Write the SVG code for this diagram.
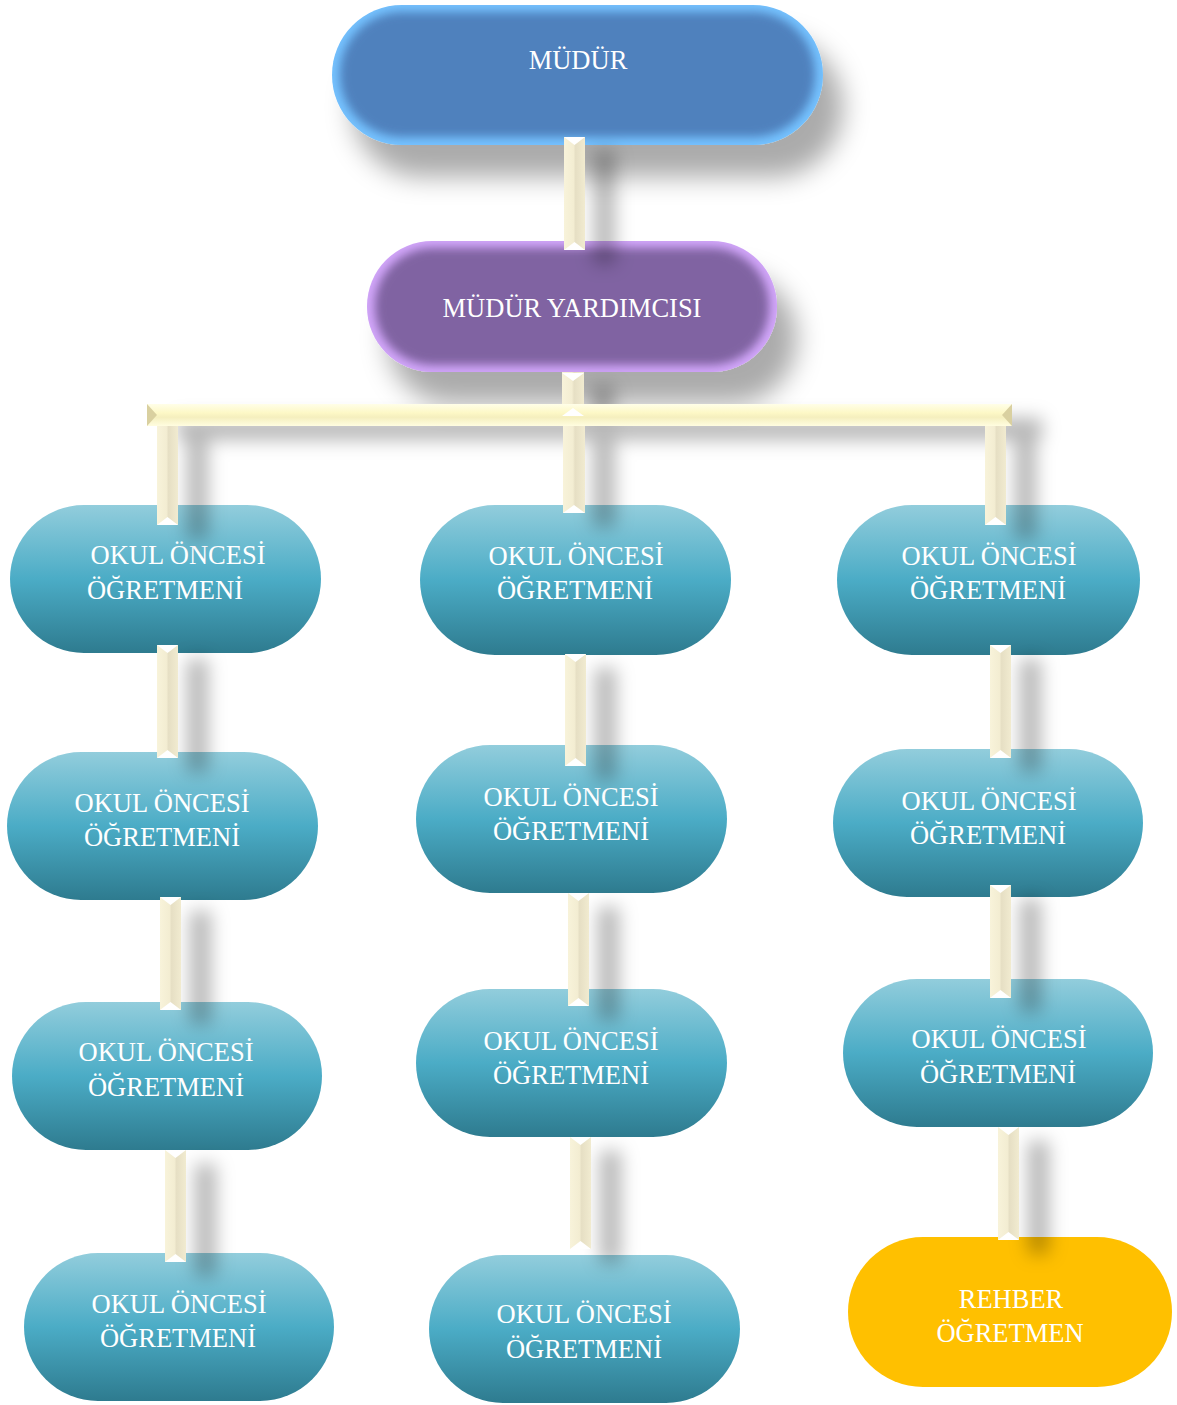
<svg xmlns="http://www.w3.org/2000/svg" width="1177" height="1405" viewBox="0 0 1177 1405">
<defs>
<style>
.t{font-family:"Liberation Serif","DejaVu Serif",serif;font-size:26.5px;fill:#ffffff;text-anchor:middle}
.teal{fill:url(#gTeal)}
.vbar{fill:url(#gVbar)}
.cap{fill:#ffffff}
</style>
<linearGradient id="gTeal" x1="0" y1="0" x2="0" y2="1">
<stop offset="0" stop-color="#92CDDC"/>
<stop offset="0.5" stop-color="#4BACC6"/>
<stop offset="1" stop-color="#2E7B8F"/>
</linearGradient>
<linearGradient id="gVbar" x1="0" y1="0" x2="1" y2="0">
<stop offset="0" stop-color="#F8F3DA"/>
<stop offset="0.45" stop-color="#F3EDD2"/>
<stop offset="0.55" stop-color="#E6DFC4"/>
<stop offset="1" stop-color="#F1EBD0"/>
</linearGradient>
<linearGradient id="gHbar" x1="0" y1="0" x2="0" y2="1">
<stop offset="0" stop-color="#FFFEE8"/>
<stop offset="0.4" stop-color="#FDF8C6"/>
<stop offset="0.6" stop-color="#F5EFBE"/>
<stop offset="1" stop-color="#FFFDE0"/>
</linearGradient>
<filter id="nodeShadow" x="-20%" y="-30%" width="150%" height="190%">
<feGaussianBlur in="SourceAlpha" stdDeviation="13"/>
<feOffset dx="20" dy="32" result="o"/>
<feFlood flood-color="#000" flood-opacity="0.33"/>
<feComposite in2="o" operator="in"/>
<feMerge><feMergeNode/><feMergeNode in="SourceGraphic"/></feMerge>
</filter>
<filter id="barShadow" x="-100%" y="-30%" width="400%" height="160%">
<feGaussianBlur in="SourceAlpha" stdDeviation="9"/>
<feOffset dx="30" dy="14" result="o"/>
<feFlood flood-color="#000" flood-opacity="0.28"/>
<feComposite in2="o" operator="in"/>
<feMerge><feMergeNode/><feMergeNode in="SourceGraphic"/></feMerge>
</filter>
<filter id="innerBlur" x="-10%" y="-20%" width="120%" height="140%">
<feGaussianBlur stdDeviation="5"/>
</filter>
<clipPath id="clipBlue"><rect x="332" y="5" width="491" height="140" rx="70"/></clipPath>
<clipPath id="clipPurple"><rect x="367" y="241" width="410" height="131" rx="65"/></clipPath>
</defs>

<g id="n-mudur">
<g filter="url(#nodeShadow)">
<rect x="332" y="5" width="491" height="140" rx="70" fill="#74C2FF"/>
</g>
<g clip-path="url(#clipBlue)">
<rect x="340" y="12" width="475" height="125" rx="62" fill="#4F81BD" filter="url(#innerBlur)"/>
</g>
<text class="t" x="578" y="69">MÜDÜR</text>
</g>

<g id="n-yardimci">
<g filter="url(#nodeShadow)">
<rect x="367" y="241" width="410" height="131" rx="65" fill="#D2A6FA"/>
</g>
<g clip-path="url(#clipPurple)">
<rect x="375" y="248" width="394" height="117" rx="58" fill="#8064A2" filter="url(#innerBlur)"/>
</g>
<text class="t" x="572" y="317">MÜDÜR YARDIMCISI</text>
</g>

<g id="c1n1"><rect class="teal" x="10" y="505" width="311" height="148" rx="74"/>
<text class="t" x="178" y="564">OKUL ÖNCESİ</text><text class="t" x="165" y="599">ÖĞRETMENİ</text></g>
<g id="c1n2"><rect class="teal" x="7" y="752" width="311" height="148" rx="74"/>
<text class="t" x="162" y="812">OKUL ÖNCESİ</text><text class="t" x="162" y="846">ÖĞRETMENİ</text></g>
<g id="c1n3"><rect class="teal" x="12" y="1002" width="310" height="148" rx="74"/>
<text class="t" x="166" y="1061">OKUL ÖNCESİ</text><text class="t" x="166" y="1096">ÖĞRETMENİ</text></g>
<g id="c1n4"><rect class="teal" x="24" y="1253" width="310" height="148" rx="74"/>
<text class="t" x="179" y="1313">OKUL ÖNCESİ</text><text class="t" x="178" y="1347">ÖĞRETMENİ</text></g>

<g id="c2n1"><rect class="teal" x="420" y="505" width="311" height="150" rx="75"/>
<text class="t" x="576" y="565">OKUL ÖNCESİ</text><text class="t" x="575" y="599">ÖĞRETMENİ</text></g>
<g id="c2n2"><rect class="teal" x="416" y="745" width="311" height="148" rx="74"/>
<text class="t" x="571" y="806">OKUL ÖNCESİ</text><text class="t" x="571" y="840">ÖĞRETMENİ</text></g>
<g id="c2n3"><rect class="teal" x="416" y="989" width="311" height="148" rx="74"/>
<text class="t" x="571" y="1050">OKUL ÖNCESİ</text><text class="t" x="571" y="1084">ÖĞRETMENİ</text></g>
<g id="c2n4"><rect class="teal" x="429" y="1255" width="311" height="148" rx="74"/>
<text class="t" x="584" y="1323">OKUL ÖNCESİ</text><text class="t" x="584" y="1358">ÖĞRETMENİ</text></g>

<g id="c3n1"><rect class="teal" x="837" y="505" width="303" height="150" rx="75"/>
<text class="t" x="989" y="565">OKUL ÖNCESİ</text><text class="t" x="988" y="599">ÖĞRETMENİ</text></g>
<g id="c3n2"><rect class="teal" x="833" y="749" width="310" height="148" rx="74"/>
<text class="t" x="989" y="810">OKUL ÖNCESİ</text><text class="t" x="988" y="844">ÖĞRETMENİ</text></g>
<g id="c3n3"><rect class="teal" x="843" y="979" width="310" height="148" rx="74"/>
<text class="t" x="999" y="1048">OKUL ÖNCESİ</text><text class="t" x="998" y="1083">ÖĞRETMENİ</text></g>

<g id="rehber"><rect x="848" y="1237" width="324" height="150" rx="75" fill="#FFC000"/>
<text class="t" x="1011" y="1308">REHBER</text><text class="t" x="1010" y="1342">ÖĞRETMEN</text></g>

<g id="connectors">
<g filter="url(#barShadow)">
<rect class="vbar" x="564" y="137" width="21" height="113"/>
<rect class="vbar" x="562" y="372" width="22" height="44"/>
<rect x="147" y="404" width="865" height="22" fill="url(#gHbar)"/>
<polygon points="147,404 157,415 147,426" fill="#D9D0A0"/>
<polygon points="1012,404 1002,415 1012,426" fill="#D9D0A0"/>
<rect class="vbar" x="157" y="426" width="21" height="99"/>
<rect class="vbar" x="563" y="426" width="22" height="87"/>
<rect class="vbar" x="985" y="426" width="21" height="99"/>
<rect class="vbar" x="157" y="645" width="21" height="113"/>
<rect class="vbar" x="160" y="897" width="21" height="113"/>
<rect class="vbar" x="165" y="1150" width="21" height="112"/>
<rect class="vbar" x="565" y="654" width="21" height="112"/>
<rect class="vbar" x="568" y="893" width="21" height="113"/>
<rect class="vbar" x="570" y="1137" width="21" height="112"/>
<rect class="vbar" x="990" y="645" width="21" height="113"/>
<rect class="vbar" x="990" y="885" width="21" height="113"/>
<rect class="vbar" x="998" y="1127" width="21" height="113"/>
</g>
<polygon class="cap" points="564,137 585,137 574.5,145"/>
<polygon class="cap" points="564,250 585,250 574.5,242"/>
<polygon class="cap" points="562,373 584,373 573,381"/>
<polygon class="cap" points="562,416 584,416 573,408"/>
<polygon class="cap" points="157,525 178,525 167.5,517"/>
<polygon class="cap" points="563,513 585,513 574,505"/>
<polygon class="cap" points="985,525 1006,525 995.5,517"/>
<polygon class="cap" points="157,645 178,645 167.5,653"/>
<polygon class="cap" points="157,758 178,758 167.5,750"/>
<polygon class="cap" points="160,897 181,897 170.5,905"/>
<polygon class="cap" points="160,1010 181,1010 170.5,1002"/>
<polygon class="cap" points="165,1150 186,1150 175.5,1158"/>
<polygon class="cap" points="165,1262 186,1262 175.5,1254"/>
<polygon class="cap" points="565,654 586,654 575.5,662"/>
<polygon class="cap" points="565,766 586,766 575.5,758"/>
<polygon class="cap" points="568,893 589,893 578.5,901"/>
<polygon class="cap" points="568,1006 589,1006 578.5,998"/>
<polygon class="cap" points="570,1137 591,1137 580.5,1145"/>
<polygon class="cap" points="570,1249 591,1249 580.5,1241"/>
<polygon class="cap" points="990,645 1011,645 1000.5,653"/>
<polygon class="cap" points="990,758 1011,758 1000.5,750"/>
<polygon class="cap" points="990,885 1011,885 1000.5,893"/>
<polygon class="cap" points="990,998 1011,998 1000.5,990"/>
<polygon class="cap" points="998,1127 1019,1127 1008.5,1135"/>
<polygon class="cap" points="998,1240 1019,1240 1008.5,1232"/>
</g>
</svg>
